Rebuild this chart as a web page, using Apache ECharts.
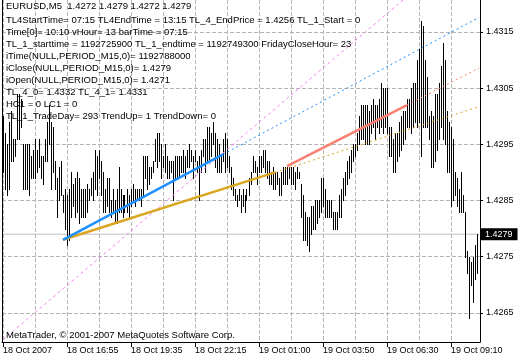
<!DOCTYPE html>
<html><head><meta charset="utf-8">
<script src="https://cdn.jsdelivr.net/npm/echarts@6/dist/echarts.min.js"></script>
<style>html,body{margin:0;padding:0;background:#fff}#c{width:520px;height:360px}</style>
</head><body><div id="c"></div>
<script>
// ---- data ----
const highs = [
1.4300,1.4297,1.4295,1.4299,1.4301,1.4296,1.4296,1.4304,1.4304,1.4303,
1.4295,1.4295,1.4295,1.4295,1.4293,1.4294,1.4296,1.4294,1.4296,1.4293,
1.4293,1.4296,1.4299,1.4302,1.4299,1.4298,1.4292,1.4289,1.4291,1.4292,
1.4286,1.4287,1.4286,1.4287,1.4290,1.4288,1.4289,1.4290,1.4289,1.4287,
1.4287,1.4287,1.4288,1.4287,1.4289,1.4290,1.4294,1.4293,1.4294,1.4292,
1.4290,1.4287,1.4289,1.4289,1.4285,1.4287,1.4285,1.4287,1.4291,1.4287,
1.4286,1.4286,1.4287,1.4286,1.4287,1.4288,1.4287,1.4287,1.4287,1.4287,
1.4293,1.4293,1.4293,1.4291,1.4291,1.4292,1.4296,1.4297,1.4297,1.4295,
1.4293,1.4295,1.4293,1.4292,1.4292,1.4292,1.4293,1.4293,1.4293,1.4293,
1.4294,1.4293,1.4294,1.4295,1.4294,1.4293,1.4294,1.4292,1.4293,1.4294,
1.4296,1.4296,1.4298,1.4298,1.4297,1.4299,1.4297,1.4296,1.4295,1.4293,
1.4296,1.4297,1.4296,1.4293,1.4291,1.4289,1.4287,1.4286,1.4287,1.4286,
1.4287,1.4286,1.4287,1.4289,1.4290,1.4293,1.4292,1.4291,1.4293,1.4293,
1.4294,1.4294,1.4292,1.4292,1.4290,1.4291,1.4290,1.4290,1.4289,1.4290,
1.4291,1.4291,1.4291,1.4291,1.4291,1.4291,1.4290,1.4291,1.4290,1.4288,
1.4286,1.4283,1.4282,1.4282,1.4284,1.4284,1.4285,1.4285,1.4285,1.4289,
1.4289,1.4287,1.4285,1.4285,1.4285,1.4283,1.4283,1.4283,1.4286,1.4287,
1.4289,1.4290,1.4292,1.4293,1.4294,1.4295,1.4295,1.4297,1.4300,1.4302,
1.4302,1.4302,1.4302,1.4301,1.4302,1.4303,1.4302,1.4302,1.4303,1.4306,
1.4305,1.4305,1.4305,1.4298,1.4298,1.4296,1.4297,1.4297,1.4299,1.4300,
1.4301,1.4301,1.4303,1.4303,1.4305,1.4306,1.4306,1.4310,1.4312,1.4317,
1.4316,1.4310,1.4307,1.4300,1.4301,1.4300,1.4304,1.4304,1.4306,1.4309,
1.4313,1.4310,1.4301,1.4299,1.4298,1.4296,1.4290,1.4289,1.4287,1.4290,
1.4286,1.4283,1.4276,1.4275,1.4274,1.4275,1.4277,1.4279
];
const lows = [
1.4290,1.4287,1.4286,1.4287,1.4292,1.4292,1.4293,1.4296,1.4296,1.4298,
1.4287,1.4287,1.4287,1.4286,1.4289,1.4289,1.4289,1.4290,1.4291,1.4289,
1.4288,1.4292,1.4292,1.4295,1.4287,1.4290,1.4287,1.4282,1.4285,1.4286,
1.4283,1.4280,1.4277,1.4278,1.4282,1.4284,1.4282,1.4283,1.4281,1.4282,
1.4282,1.4282,1.4283,1.4285,1.4286,1.4285,1.4287,1.4286,1.4289,1.4286,
1.4283,1.4283,1.4284,1.4283,1.4282,1.4283,1.4281,1.4281,1.4283,1.4283,
1.4282,1.4283,1.4283,1.4282,1.4284,1.4285,1.4284,1.4285,1.4285,1.4284,
1.4286,1.4289,1.4287,1.4288,1.4289,1.4290,1.4292,1.4291,1.4292,1.4289,
1.4291,1.4290,1.4289,1.4289,1.4290,1.4285,1.4289,1.4289,1.4289,1.4290,
1.4290,1.4289,1.4291,1.4291,1.4292,1.4289,1.4292,1.4290,1.4285,1.4290,
1.4293,1.4290,1.4292,1.4292,1.4293,1.4295,1.4291,1.4290,1.4290,1.4290,
1.4292,1.4290,1.4291,1.4290,1.4287,1.4286,1.4285,1.4284,1.4285,1.4283,
1.4284,1.4283,1.4285,1.4286,1.4288,1.4290,1.4290,1.4288,1.4290,1.4290,
1.4291,1.4290,1.4289,1.4288,1.4288,1.4287,1.4287,1.4288,1.4286,1.4286,
1.4288,1.4288,1.4288,1.4289,1.4288,1.4288,1.4287,1.4289,1.4289,1.4282,
1.4278,1.4278,1.4277,1.4276,1.4279,1.4280,1.4280,1.4281,1.4282,1.4283,
1.4284,1.4282,1.4282,1.4282,1.4282,1.4280,1.4280,1.4280,1.4282,1.4282,
1.4285,1.4286,1.4288,1.4289,1.4290,1.4292,1.4293,1.4294,1.4295,1.4296,
1.4296,1.4295,1.4295,1.4295,1.4297,1.4298,1.4296,1.4298,1.4297,1.4298,
1.4297,1.4298,1.4297,1.4293,1.4293,1.4290,1.4290,1.4292,1.4293,1.4294,
1.4295,1.4296,1.4298,1.4298,1.4297,1.4298,1.4299,1.4298,1.4299,1.4293,
1.4298,1.4298,1.4298,1.4296,1.4291,1.4291,1.4292,1.4294,1.4296,1.4298,
1.4296,1.4295,1.4290,1.4290,1.4284,1.4285,1.4286,1.4284,1.4283,1.4283,
1.4283,1.4275,1.4272,1.4264,1.4270,1.4267,1.4271,1.4272
];
const slotCount = 239;
const tickIndex = [0, 32, 64, 96, 128, 160, 192, 224];
const tickLabels = ['18 Oct 2007','18 Oct 16:55','18 Oct 19:35','18 Oct 22:15',
                    '19 Oct 01:00','19 Oct 03:50','19 Oct 06:30','19 Oct 09:10'];
const priceTicks = [1.4265, 1.4275, 1.4285, 1.4295, 1.4305, 1.4315];
const priceMin = 1.42598, priceMax = 1.43207;
const lastPrice = 1.4279;
// trend lines: [bar index, price]
const tlBlue = [[30, 1.4278], [110, 1.42932]];
const tlBlueExt = [[110, 1.42932], [238, 1.43176]];
const tlOrange = [[30, 1.4278], [136, 1.4290]];
const tlOrangeExt = [[136, 1.4290], [238, 1.43017]];
const tlRed = [[142, 1.42911], [202, 1.43020]];
const tlRedExt = [[202, 1.43020], [238, 1.43086]];
const tlViolet = [[0, 1.42602], [205, 1.43222]];
const lastPriceLine = [[0, lastPrice], [238, lastPrice]];
const headerText = 'EURUSD,M5  1.4272 1.4279 1.4272 1.4279';
const commentLines = [
 'TL4StartTime= 07:15 TL4EndTime = 13:15 TL_4_EndPrice = 1.4256 TL_1_Start = 0',
 'Time[0]= 10:10 vHour= 13 barTime = 07:15',
 'TL_1_starttime = 1192725900 TL_1_endtime = 1192749300 FridayCloseHour= 23',
 'iTime(NULL,PERIOD_M15,0)= 1192788000',
 'iClose(NULL,PERIOD_M15,0)= 1.4279',
 'iOpen(NULL,PERIOD_M15,0)= 1.4271',
 'TL_4_0= 1.4332 TL_4_1= 1.4331',
 'HC1 = 0 LC1 = 0',
 'TL_1_TradeDay= 293 TrendUp= 1 TrendDown= 0'
];
const copyright = 'MetaTrader, \u00a9 2001-2007 MetaQuotes Software Corp.';

// ---- chart ----
const FONT = '"Liberation Sans", Arial, sans-serif';
const GRID_COLOR = '#b4b4b4';
const categories = Array.from({length: slotCount}, (_, i) => String(i));
const barData = highs.map((h, i) => [i, lows[i], h]);

const chart = echarts.init(document.getElementById('c'), null, {renderer: 'canvas'});
function tl(data, color, width, type, z) {
  return {type: 'line', data: data, symbol: 'none', showSymbol: false, silent: true, z: z,
          lineStyle: {color: color, width: width, type: type}};
}
chart.setOption({
  animation: false,
  backgroundColor: '#fff',
  title: [
    {text: headerText, left: 6, top: 0, padding: 0,
     textStyle: {fontSize: 9.5, fontFamily: FONT, fontWeight: 'normal', color: '#000', lineHeight: 13}},
    {text: commentLines.join('\n'), left: 6, top: 14, padding: 0,
     textStyle: {fontSize: 9.5, fontFamily: FONT, fontWeight: 'normal', color: '#000', lineHeight: 12.1}},
    {text: copyright, left: 6, top: 329, padding: 0,
     textStyle: {fontSize: 9.5, fontFamily: FONT, fontWeight: 'normal', color: '#000', lineHeight: 12}}
  ],
  grid: {left: 2, right: 40, top: 0, bottom: 18, containLabel: false},
  xAxis: {
    type: 'category', data: categories, boundaryGap: true,
    axisLine: {show: true, lineStyle: {color: '#000', width: 1}},
    axisTick: {show: true, interval: 31, alignWithLabel: true, length: 5, lineStyle: {color: '#000'}},
    axisLabel: {interval: 31, align: 'left', margin: 4, fontSize: 9, fontFamily: FONT, color: '#000',
      formatter: function (v) { const k = tickIndex.indexOf(parseInt(v, 10)); return k >= 0 ? tickLabels[k] : ''; }},
    splitLine: {show: true, interval: 15, alignWithLabel: true, lineStyle: {color: GRID_COLOR, type: [4, 2], width: 1}}
  },
  yAxis: [
    {type: 'value', position: 'right', min: priceMin, max: priceMax, scale: true,
     axisLine: {show: true, lineStyle: {color: '#000', width: 1}},
     axisTick: {show: true, length: 3, customValues: priceTicks, lineStyle: {color: '#000'}},
     axisLabel: {customValues: priceTicks, margin: 6, fontSize: 9, fontFamily: FONT, color: '#000',
                 formatter: v => Number(v).toFixed(4)},
     splitLine: {show: true, lineStyle: {color: GRID_COLOR, type: [4, 2], width: 1}}},
    {type: 'value', position: 'left', min: priceMin, max: priceMax, scale: true,
     axisLine: {show: true, onZero: false, lineStyle: {color: '#000', width: 1}},
     axisTick: {show: false}, axisLabel: {show: false}, splitLine: {show: false}}
  ],
  series: [
    {type: 'line', data: lastPriceLine, symbol: 'none', showSymbol: false, silent: true, z: 1,
     lineStyle: {color: '#c0c0c0', width: 1, type: 'solid'},
     endLabel: {show: true, distance: 2, formatter: lastPrice.toFixed(4),
                backgroundColor: '#000', color: '#fff', fontSize: 9, fontFamily: FONT,
                padding: [2, 5, 1, 4]}},
    {type: 'custom', z: 2, silent: true, data: barData, encode: {x: 0, y: [1, 2]},
     renderItem: function (params, api) {
       const lo = api.coord([api.value(0), api.value(1)]);
       const hi = api.coord([api.value(0), api.value(2)]);
       const x = Math.floor(lo[0]);
       const y1 = Math.round(hi[1]);
       const y2 = Math.round(lo[1]);
       return {type: 'rect', shape: {x: x, y: y1, width: 1, height: Math.max(1, y2 - y1 + 1)},
               style: {fill: '#000'}};
     }},
    tl(tlViolet, '#EE82EE', 1, [3, 3], 3),
    tl(tlBlueExt, '#1E90FF', 1, [2, 3], 3),
    tl(tlOrangeExt, '#DAA520', 1, [2, 3], 3),
    tl(tlRedExt, '#FA8072', 1, [2, 3], 3),
    tl(tlOrange, '#DAA520', 2.5, 'solid', 4),
    tl(tlBlue, '#1E90FF', 2.5, 'solid', 4),
    tl(tlRed, '#FA8072', 2.5, 'solid', 4)
  ]
});
</script>
</body></html>
